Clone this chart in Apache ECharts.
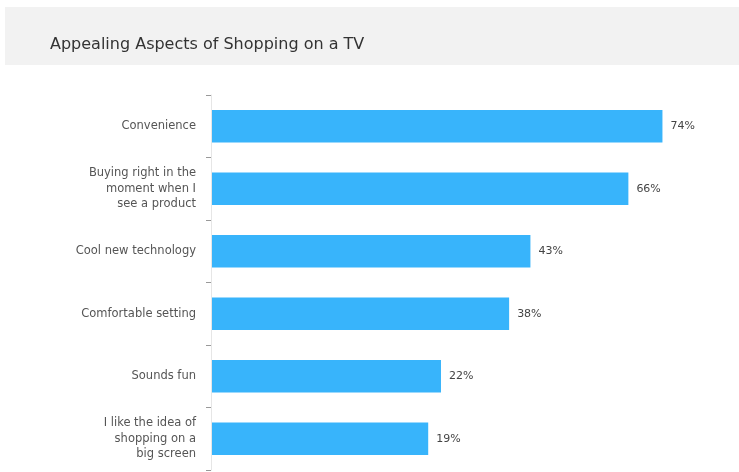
<!DOCTYPE html>
<html>
<head>
<meta charset="utf-8">
<script src="https://cdn.jsdelivr.net/npm/echarts@6/dist/echarts.min.js"></script>
<style>
html,body{margin:0;padding:0;background:#fff;}
#chart{width:739px;height:472px;}
</style>
</head>
<body>
<div id="chart"></div>
<script>
var titleText = 'Appealing Aspects of Shopping on a TV';
var categories = [
  'Convenience',
  'Buying right in the\nmoment when I\nsee a product',
  'Cool new technology',
  'Comfortable setting',
  'Sounds fun',
  'I like the idea of\nshopping on a\nbig screen'
];
var values = [74, 66, 43, 38, 22, 19];

var X_MIN = -32, X_MAX = 80;
var BAR_COLOR = '#38b4fb';

var chart = echarts.init(document.getElementById('chart'), null, {renderer: 'canvas'});
chart.setOption({
  animation: false,
  backgroundColor: '#fff',
  graphic: [{
    type: 'rect', left: 5, top: 7, z: -10,
    shape: {width: 734, height: 58},
    style: {fill: '#f2f2f2'}
  }],
  title: {
    text: titleText,
    left: 45, top: 32,
    textStyle: {fontFamily: 'DejaVu Sans', fontSize: 16, fontWeight: 'normal', color: '#333'}
  },
  grid: {left: 211, right: 51, top: 95, bottom: 2, containLabel: false},
  xAxis: {
    type: 'value', min: X_MIN, max: X_MAX, show: false
  },
  yAxis: {
    type: 'category',
    inverse: true,
    data: categories,
    axisLine: {show: true, onZero: false, lineStyle: {color: '#e6e6e6', width: 1}},
    axisTick: {show: true, length: 5, lineStyle: {color: '#999'}},
    axisLabel: {
      margin: 15,
      color: '#555',
      fontFamily: 'DejaVu Sans',
      fontSize: 11.5,
      lineHeight: 15.5,
      align: 'right'
    },
    splitLine: {show: false}
  },
  series: [{
    type: 'custom',
    encode: {x: 0, y: 1},
    data: values.map(function (v, i) { return [v, i]; }),
    renderItem: function (params, api) {
      var v = api.value(0);
      var c = api.value(1);
      var start = api.coord([X_MIN, c]);
      var end = api.coord([v, c]);
      var h = api.size([0, 1])[1] * 0.52;
      return {
        type: 'group',
        children: [{
          type: 'rect',
          shape: {x: start[0] + 1, y: start[1] - h / 2, width: end[0] - start[0] - 1, height: h},
          style: {fill: BAR_COLOR}
        }, {
          type: 'text',
          style: {
            text: v + '%',
            x: end[0] + 8,
            y: end[1],
            verticalAlign: 'middle',
            align: 'left',
            fill: '#444',
            font: '11px "DejaVu Sans"'
          }
        }]
      };
    }
  }]
});
</script>
</body>
</html>
